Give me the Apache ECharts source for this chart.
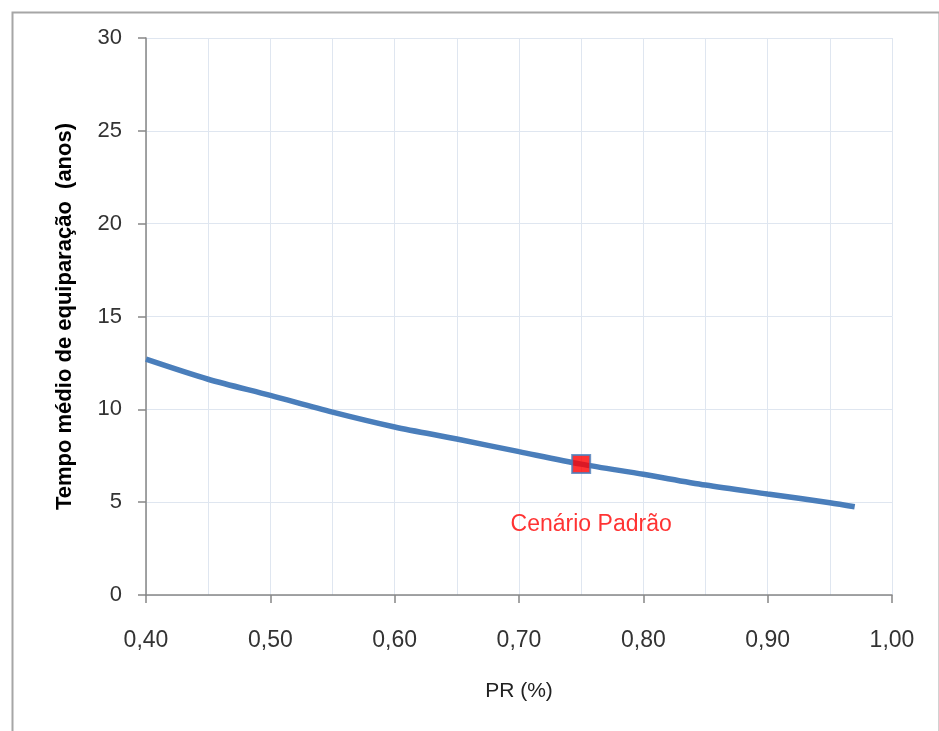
<!DOCTYPE html>
<html>
<head>
<meta charset="utf-8">
<script src="https://cdn.jsdelivr.net/npm/echarts@6/dist/echarts.min.js"></script>
<style>html,body{margin:0;padding:0;background:#fff;}#c{width:939px;height:731px;}</style>
</head>
<body>
<div id="c"></div>
<script>
const prValues = [0.40, 0.45, 0.50, 0.55, 0.60, 0.65, 0.70, 0.75, 0.80, 0.85, 0.90, 0.95, 0.97];
const tempoValues = [12.7, 11.62, 10.75, 9.85, 9.05, 8.4, 7.72, 7.05, 6.5, 5.92, 5.44, 4.97, 4.75];
const cenarioPadrao = [0.75, 7.05];
const cenarioLabel = 'Cenário Padrão';
const xName = 'PR (%)';
const yName = 'Tempo médio de equiparação  (anos)';

const chart = echarts.init(document.getElementById('c'));
const font = 'Liberation Sans';
chart.setOption({
  animation: false,
  backgroundColor: '#fff',
  graphic: [{
    type: 'rect', left: 10, top: 10, silent: true,
    shape: { width: 927, height: 740 },
    style: { fill: 'none', stroke: '#a6a6a6', lineWidth: 2 }
  }],
  grid: { left: 146, right: 47, top: 38, bottom: 136 },
  xAxis: {
    type: 'value', min: 0.4, max: 1.0, interval: 0.1,
    name: xName, nameLocation: 'middle', nameGap: 86,
    nameTextStyle: { fontFamily: font, fontSize: 21, color: '#222' },
    axisLine: { show: true, lineStyle: { color: '#868686', width: 1.5 } },
    axisTick: { show: true, length: 8, lineStyle: { color: '#868686', width: 1.5 } },
    axisLabel: { margin: 34, fontFamily: font, fontSize: 23, color: '#333',
      formatter: v => v.toFixed(2).replace('.', ',') },
    splitLine: { show: true, lineStyle: { color: '#dfe6f0', width: 1 } },
    minorTick: { show: false, splitNumber: 2 },
    minorSplitLine: { show: true, lineStyle: { color: '#dfe6f0', width: 1 } }
  },
  yAxis: {
    type: 'value', min: 0, max: 30, interval: 5,
    name: yName, nameLocation: 'middle', nameGap: 70,
    nameTextStyle: { fontFamily: font, fontSize: 22, fontWeight: 'bold', color: '#000' },
    axisLine: { show: true, lineStyle: { color: '#868686', width: 1.5 } },
    axisTick: { show: true, length: 8, lineStyle: { color: '#868686', width: 1.5 } },
    axisLabel: { margin: 24, fontFamily: font, fontSize: 22, color: '#333' },
    splitLine: { show: true, lineStyle: { color: '#dfe6f0', width: 1 } }
  },
  series: [{
    type: 'line', smooth: 0.3, symbol: 'none',
    lineStyle: { color: '#4a7ebb', width: 5.5 },
    data: prValues.map((x, i) => [x, tempoValues[i]]),
    z: 2
  }, {
    type: 'scatter', symbol: 'rect', symbolSize: 18,
    itemStyle: { color: '#ff0000', borderColor: '#4a7ebb', borderWidth: 2 },
    data: [cenarioPadrao],
    label: { show: true, formatter: cenarioLabel, position: 'bottom', distance: 5,
      offset: [10, 34], fontFamily: font, fontSize: 23, color: '#ff0000' },
    z: 10
  }]
});
</script>
</body>
</html>
